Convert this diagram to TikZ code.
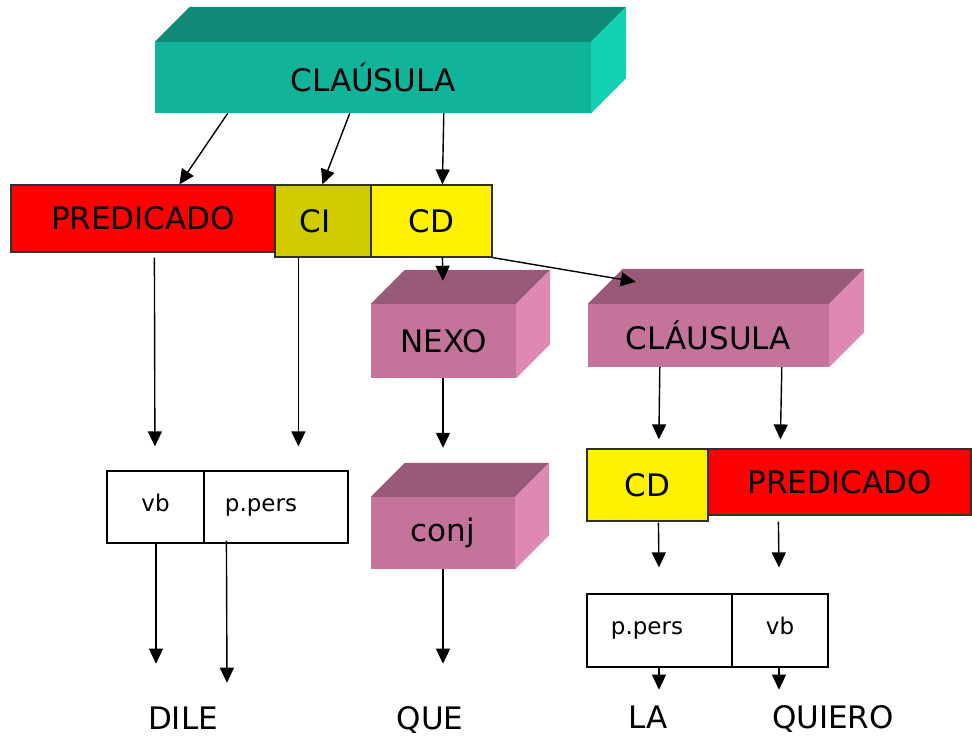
\documentclass[tikz,border=0pt]{standalone}
\usepackage{fontspec}
\setmainfont{DejaVu Sans}
\usetikzlibrary{arrows.meta,calc}
\definecolor{tealF}{HTML}{12B39B}
\definecolor{tealT}{HTML}{0E8A76}
\definecolor{tealS}{HTML}{14D1B2}
\definecolor{pinkF}{HTML}{C4749A}
\definecolor{pinkT}{HTML}{985A78}
\definecolor{pinkS}{HTML}{E088B4}
\definecolor{ciC}{HTML}{D0CB00}
\definecolor{edgeC}{HTML}{303030}
\newcommand\cubefaces[4]{%
  \fill[#3] (#1.north west) -- ++(#2,-#2) -- ($(#1.north east)+(#2,-#2)$) -- (#1.north east) -- cycle;
  \fill[#4] (#1.north east) -- ++(#2,-#2) -- ($(#1.south east)+(#2,-#2)$) -- (#1.south east) -- cycle;}
\begin{document}
\begin{tikzpicture}[x=1pt,y=-1pt,
  big/.style={font=\fontsize{31}{36}\selectfont},
  small/.style={font=\fontsize{23}{28}\selectfont},
  face/.style={rectangle,inner sep=0pt,big},
  flat/.style={rectangle,inner sep=0pt,draw=edgeC,line width=1.2pt,big},
  cell/.style={rectangle,inner sep=0pt,draw=black,line width=1.2pt,small,fill=white,text height=17pt,text depth=8.5pt},
  word/.style={inner sep=0pt,big,anchor=base,text height=22.6pt,text depth=6pt},
  arr/.style={line width=1.4pt,-{Triangle[length=15pt,width=14pt]}}]
\useasboundingbox (0,0) rectangle (972,740);
% top clause
\node[face,fill=tealF,minimum width=436pt,minimum height=71pt] (cl) at (373,77.5) {CLAÚSULA};
\cubefaces{cl}{35}{tealT}{tealS}
% row 2
\node[flat,fill=red,minimum width=264pt,minimum height=67pt] (pred) at (143,218.5) {PREDICADO};
\node[flat,fill=ciC,minimum width=96pt,minimum height=72pt] (ci) at (323,221) {\hspace*{-16pt}CI};
\node[flat,fill=yellow,minimum width=121pt,minimum height=72pt] (cd) at (431.5,221) {CD};
% pink boxes
\node[face,fill=pinkF,minimum width=145pt,minimum height=74pt] (nexo) at (443.5,341) {NEXO};
\cubefaces{nexo}{34}{pinkT}{pinkS}
\node[face,fill=pinkF,minimum width=241pt,minimum height=63pt] (cl2) at (708.5,335.5) {CLÁUSULA};
\cubefaces{cl2}{35}{pinkT}{pinkS}
\node[face,fill=pinkF,minimum width=144pt,minimum height=72pt] (conj) at (443,533) {conj};
\cubefaces{conj}{34}{pinkT}{pinkS}
% left cells
\node[cell,minimum width=97pt,minimum height=72pt] (vb) at (155.5,507) {vb};
\node[cell,minimum width=144pt,minimum height=72pt] (pp) at (276,507) {\hspace*{-30pt}p.pers};
% right lower
\node[flat,fill=red,minimum width=263pt,minimum height=66pt] (pred2) at (839.5,482) {PREDICADO};
\node[flat,fill=yellow,minimum width=121pt,minimum height=72pt] (cd2) at (647.5,485) {CD};
\node[cell,minimum width=145pt,minimum height=73pt] (pp2) at (659.5,630.5) {\hspace*{-25pt}p.pers};
\node[cell,minimum width=96pt,minimum height=73pt] (vb2) at (780,630.5) {vb};
% words
\node[word] (dile) at (183,729.5) {DILE};
\node[word] (que) at (430,729.5) {QUE};
\node[word] (la) at (648,728.5) {LA};
\node[word] (quiero) at (833,728.5) {QUIERO};
% arrows
\draw[arr] ([xshift=73pt]cl.south west) -- ([xshift=169pt]pred.north west);
\draw[arr] ([xshift=195pt]cl.south west) -- ([xshift=48pt]ci.north west);
\draw[arr] ([xshift=289pt]cl.south west) -- ([xshift=72pt]cd.north west);
\draw[arr] ([xshift=144pt,yshift=-5pt]pred.south west) -- ([xshift=48.5pt,yshift=24pt]vb.north west);
\draw[arr] ([xshift=24pt]ci.south west) -- ([xshift=95pt,yshift=24pt]pp.north west);
\draw[arr] ([xshift=72pt]cd.south west) -- ([xshift=-0.5pt,yshift=23pt]nexo.north);
\draw[arr] (cd.south east) -- ([xshift=48pt,yshift=22pt]cl2.north west);
\draw[arr] ([xshift=-0.5pt]nexo.south) -- ([yshift=49pt]conj.north);
\draw[arr] ([xshift=72pt]cl2.south west) -- ([xshift=72.5pt,yshift=9pt]cd2.north west);
\draw[arr] ([xshift=194pt]cl2.south west) -- ([xshift=73pt,yshift=9pt]pred2.north west);
\draw[arr] ([xshift=0.5pt]vb.south) -- ([xshift=-27pt,yshift=43pt]dile.north);
\draw[arr] ([xshift=23pt,yshift=3pt]pp.south west) -- ([xshift=44pt,yshift=24pt]dile.north);
\draw[arr] (conj.south) -- ([xshift=13pt,yshift=43pt]que.north);
\draw[arr] ([xshift=72pt,yshift=-1pt]cd2.south west) -- ([xshift=-0.5pt,yshift=26pt]pp2.north);
\draw[arr] ([xshift=71pt,yshift=-6pt]pred2.south west) -- ([xshift=-1pt,yshift=26pt]vb2.north);
\draw[arr] ([xshift=-0.5pt]pp2.south) -- ([xshift=11pt,yshift=16pt]la.north);
\draw[arr] ([xshift=-1pt]vb2.south) -- ([xshift=-54pt,yshift=16pt]quiero.north);
\end{tikzpicture}
\end{document}
